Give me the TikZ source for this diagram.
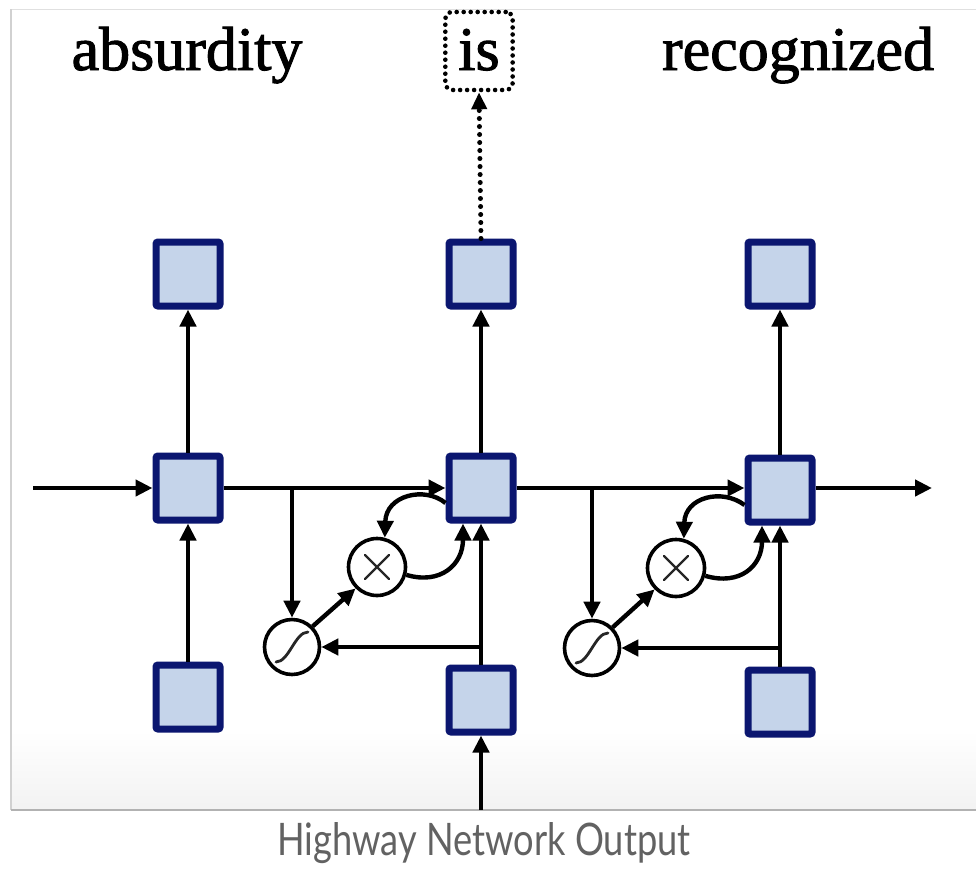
\documentclass[tikz,border=0pt]{standalone}
\usepackage{fontspec}
\usepackage{graphicx}
\usetikzlibrary{arrows.meta,calc}
\newfontfamily\wordfont[FakeBold=1.6]{Liberation Serif}
\newfontfamily\capfont{Lato}
\definecolor{navy}{HTML}{0B1670}
\definecolor{cellfill}{HTML}{C5D4EA}
\definecolor{captiongray}{HTML}{626262}
\begin{document}
\begin{tikzpicture}[x=1pt,y=-1pt,
  cell/.style={draw=navy, fill=cellfill, line width=7pt, minimum size=64pt, inner sep=0pt, rounded corners=2pt},
  conn/.style={line width=4.4pt, -{Triangle[length=17pt,width=16pt]}},
  op/.style={circle, draw, line width=3.6pt, minimum size=55pt, inner sep=0pt, fill=white},
  word/.style={font=\wordfont\fontsize{62}{70}\selectfont, anchor=base, inner sep=0pt},
  dotline/.style={line width=5pt, line cap=round, dash pattern=on 0pt off 8pt},
  glyph/.style={line width=2.8pt, black!85, line cap=round},
]
\useasboundingbox (0,0) rectangle (976,870);
% frame
\fill[white] (0,0) rectangle (976,870);
\shade[top color=white, bottom color=black!5] (11,730) rectangle (976,810);
\draw[black!12, line width=1pt] (976,9) -- (11,9);
\draw[black!18, line width=1.2pt] (11,9) -- (11,810);
\draw[black!30, line width=1.5pt] (11,810) -- (976,810);

% words
\node[word] (w1) at (187,70) {absurdity};
\node[word, draw, line width=4.6pt, line cap=round, dash pattern=on 0pt off 7pt, rounded corners=7pt,
      text height=53pt, text depth=15pt, inner xsep=13pt, inner ysep=5pt] (w2) at (479,70) {is};
\node[word] (w3) at (798,70) {recognized};

% cells
\node[cell] (tL) at (188,274) {};
\node[cell] (tM) at (481,274) {};
\node[cell] (tR) at (780,274) {};
\node[cell] (mL) at (188,488) {};
\node[cell] (mM) at (481,488) {};
\node[cell] (mR) at (780,490) {};
\node[cell] (bL) at (188,697) {};
\node[cell] (bM) at (481,700) {};
\node[cell] (bR) at (780,702) {};

% operators
\node[op] (sL) at (292,647) {};
\node[op, minimum size=57pt] (xL) at (377,567) {};
\node[op] (sR) at (592,648) {};
\node[op, minimum size=57pt] (xR) at (676,568) {};

% glyphs
\foreach \s in {sL,sR}{
  \draw[glyph] ($(\s)+(-16,15)$) .. controls ($(\s)+(-3,15)$) and ($(\s)+(3,-15)$) .. ($(\s)+(16,-15)$);
}
\foreach \x in {xL,xR}{
  \draw[glyph, line width=2.2pt] ($(\x)+(-12,-12)$) -- ($(\x)+(12,12)$);
  \draw[glyph, line width=2.2pt] ($(\x)+(-12,12)$) -- ($(\x)+(12,-12)$);
}

% coordinates
\coordinate (inL) at (33,488);
\coordinate (outR) at (932,488);
\coordinate (inM) at (481,810);
\coordinate (brL) at (sL |- mL);
\coordinate (brR) at (sR |- mL);
\coordinate (jL) at (bM.north |- sL);
\coordinate (jR) at (bR.north |- sR);

% main horizontal flow
\draw[conn] (inL) -- (mL.west);
\draw[conn] (mL.east) -- (mL.east -| mM.west);
\draw[conn] (mM.east) -- (mM.east -| mR.west);
\draw[conn] (mR.east |- mL) -- (outR);

% vertical flow
\draw[conn] (bL.north) -- (mL.south);
\draw[conn] (mL.north) -- (tL.south);
\draw[conn] (mM.north) -- (tM.south);
\draw[conn] (mR.north) -- (tR.south);
\draw[conn] (bM.north) -- (mM.south);
\draw[conn] (bR.north) -- (bR.north |- mR.south);
\draw[conn] (inM) -- (bM.south);
\draw[dotline, -{Triangle[length=17pt,width=15pt]}] (tM.north) -- (w2.south);

% highway gates, left
\draw[conn] (brL) -- (sL.north);
\draw[conn] (jL) -- (sL.east);
\draw[conn] (sL.45) -- (xL.225);
\draw[conn] ($(mM.west)+(0,15)$) .. controls (425,486) and (386,495) .. (xL.75);
\draw[conn] (xL.-15) .. controls (440,585) and (463,565) .. ($(mM.south)+(-18,0)$);

% highway gates, right
\draw[conn] (brR) -- (sR.north);
\draw[conn] (jR) -- (sR.east);
\draw[conn] (sR.45) -- (xR.225);
\draw[conn] ($(mR.west)+(0,15)$) .. controls (722,488) and (685,497) .. (xR.75);
\draw[conn] (xR.-15) .. controls (740,586) and (762,566) .. ($(mR.south)+(-18,0)$);

% caption
\node[anchor=base, inner sep=0pt, text=captiongray] (cap) at (484,855)
  {\resizebox{413pt}{33pt}{\capfont Highway Network Output}};
\end{tikzpicture}
\end{document}
